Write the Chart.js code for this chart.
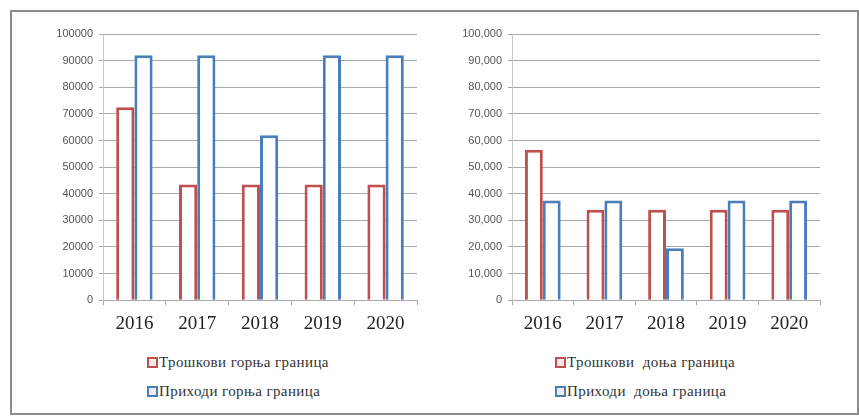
<!DOCTYPE html>
<html>
<head>
<meta charset="utf-8">
<script src="https://cdn.jsdelivr.net/npm/chart.js@4.4.1/dist/chart.umd.min.js"></script>
<style>
  html, body { margin: 0; padding: 0; background: #fff; }
  #frame { position: absolute; left: 10px; top: 10px; width: 845px; height: 401px; border: 2px solid #8c8c8c; }
  .wrap { position: absolute; top: 12px; width: 420px; height: 336px; }
  .legend { position: absolute; width: 260px; font-family: "Liberation Serif", "DejaVu Serif", serif; font-size: 15px; letter-spacing: 0.4px; color: #333; text-align: left; white-space: pre; }
  .legend div { height: 29px; line-height: 29px; }
  .box { display: inline-block; width: 7px; height: 7px; border: 2px solid; margin-right: 1px; vertical-align: -1px; }
</style>
</head>
<body>
<div id="frame"></div>
<div class="wrap" style="left:12px"><canvas id="left"></canvas></div>
<div class="wrap" style="left:432px"><canvas id="right"></canvas></div>
<div class="legend" id="legLeft" style="left:147px; top:348px"></div>
<div class="legend" id="legRight" style="left:555px; top:348px"></div>
<script>
const years = ['2016', '2017', '2018', '2019', '2020'];

// горња граница
const costsUpper  = [72500, 43500, 43500, 43500, 43500];
const incomeUpper = [92000, 92000, 62000, 92000, 92000];
// доња граница
const costsLower  = [56500, 34000, 34000, 34000, 34000];
const incomeLower = [37500, 37500, 19500, 37500, 37500];

const namesUpper = ['Трошкови горња граница', 'Приходи горња граница'];
const namesLower = ['Трошкови  доња граница', 'Приходи  доња граница'];

const RED = '#c0504d';
const BLUE = '#4a7ebb';
const GRID = '#a8a8a8';

function makeChart(id, costs, income, names, fmt, yWidth, rightPad) {
  return new Chart(document.getElementById(id), {
    type: 'bar',
    data: {
      labels: years,
      datasets: [
        { label: names[0], data: costs, backgroundColor: '#fff', borderColor: RED, borderWidth: 3 },
        { label: names[1], data: income, backgroundColor: '#fff', borderColor: BLUE, borderWidth: 3 }
      ]
    },
    options: {
      responsive: true, maintainAspectRatio: false, animation: false,
      layout: { padding: { left: 0, right: rightPad, top: 22, bottom: 6 } },
      plugins: { legend: { display: false }, tooltip: { enabled: false } },
      datasets: { bar: { categoryPercentage: 0.58, barPercentage: 1 } },
      scales: {
        x: {
          grid: { offset: true, drawOnChartArea: false, drawTicks: true, tickLength: 5, color: GRID },
          border: { color: GRID },
          ticks: { color: '#222', padding: 7, font: { family: 'Liberation Serif', size: 19 } }
        },
        y: {
          min: 0, max: 100000,
          afterFit: s => { s.width = yWidth; },
          grid: { color: GRID, tickLength: 4 },
          border: { color: '#c8c8c8' },
          ticks: { stepSize: 10000, color: '#555', padding: 6, font: { family: 'Liberation Sans', size: 11 }, callback: fmt }
        }
      }
    }
  });
}

function legend(id, names) {
  const cols = [RED, BLUE];
  document.getElementById(id).innerHTML = names.map((n, i) =>
    `<div><span class="box" style="border-color:${cols[i]}; background:#f4e8e8"></span>${n}</div>`).join('');
}

makeChart('left', costsUpper, incomeUpper, namesUpper, v => String(v), 91, 15);
makeChart('right', costsLower, incomeLower, namesLower, v => v.toLocaleString('en-US'), 80, 32);
legend('legLeft', namesUpper);
legend('legRight', namesLower);
</script>
</body>
</html>
